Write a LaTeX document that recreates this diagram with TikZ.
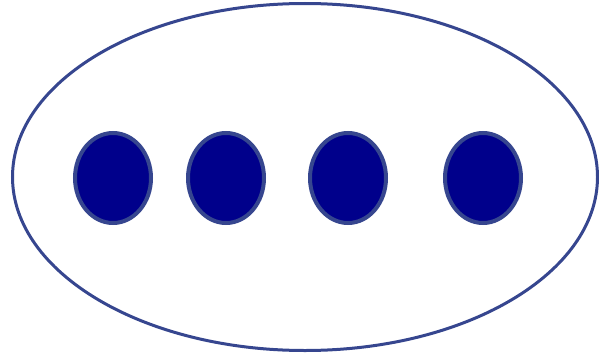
\documentclass[tikz,border=0pt]{standalone}
\usepackage{xcolor}
\definecolor{setBlue}{HTML}{36468F}
\definecolor{dotNavy}{HTML}{00008B}
\usepackage{tikz}
\usetikzlibrary{shapes.geometric}

\begin{document}
\begin{tikzpicture}[x=1pt, y=1pt]
  \useasboundingbox (0,0) rectangle (599,357);

  % Outer set
  \node[draw=setBlue, line width=3pt, ellipse, inner sep=0pt,
        minimum width=585pt, minimum height=347pt]
        (set) at (305,180) {};

  % Elements
  \node[draw=setBlue, line width=4pt, fill=dotNavy, ellipse, inner sep=0pt,
        minimum width=76pt, minimum height=90pt] (elemA) at (113,179) {};
  \node[draw=setBlue, line width=4pt, fill=dotNavy, ellipse, inner sep=0pt,
        minimum width=76pt, minimum height=90pt] (elemB) at (226,179) {};
  \node[draw=setBlue, line width=4pt, fill=dotNavy, ellipse, inner sep=0pt,
        minimum width=76pt, minimum height=90pt] (elemC) at (348,179) {};
  \node[draw=setBlue, line width=4pt, fill=dotNavy, ellipse, inner sep=0pt,
        minimum width=76pt, minimum height=90pt] (elemD) at (483,179) {};
\end{tikzpicture}
\end{document}
